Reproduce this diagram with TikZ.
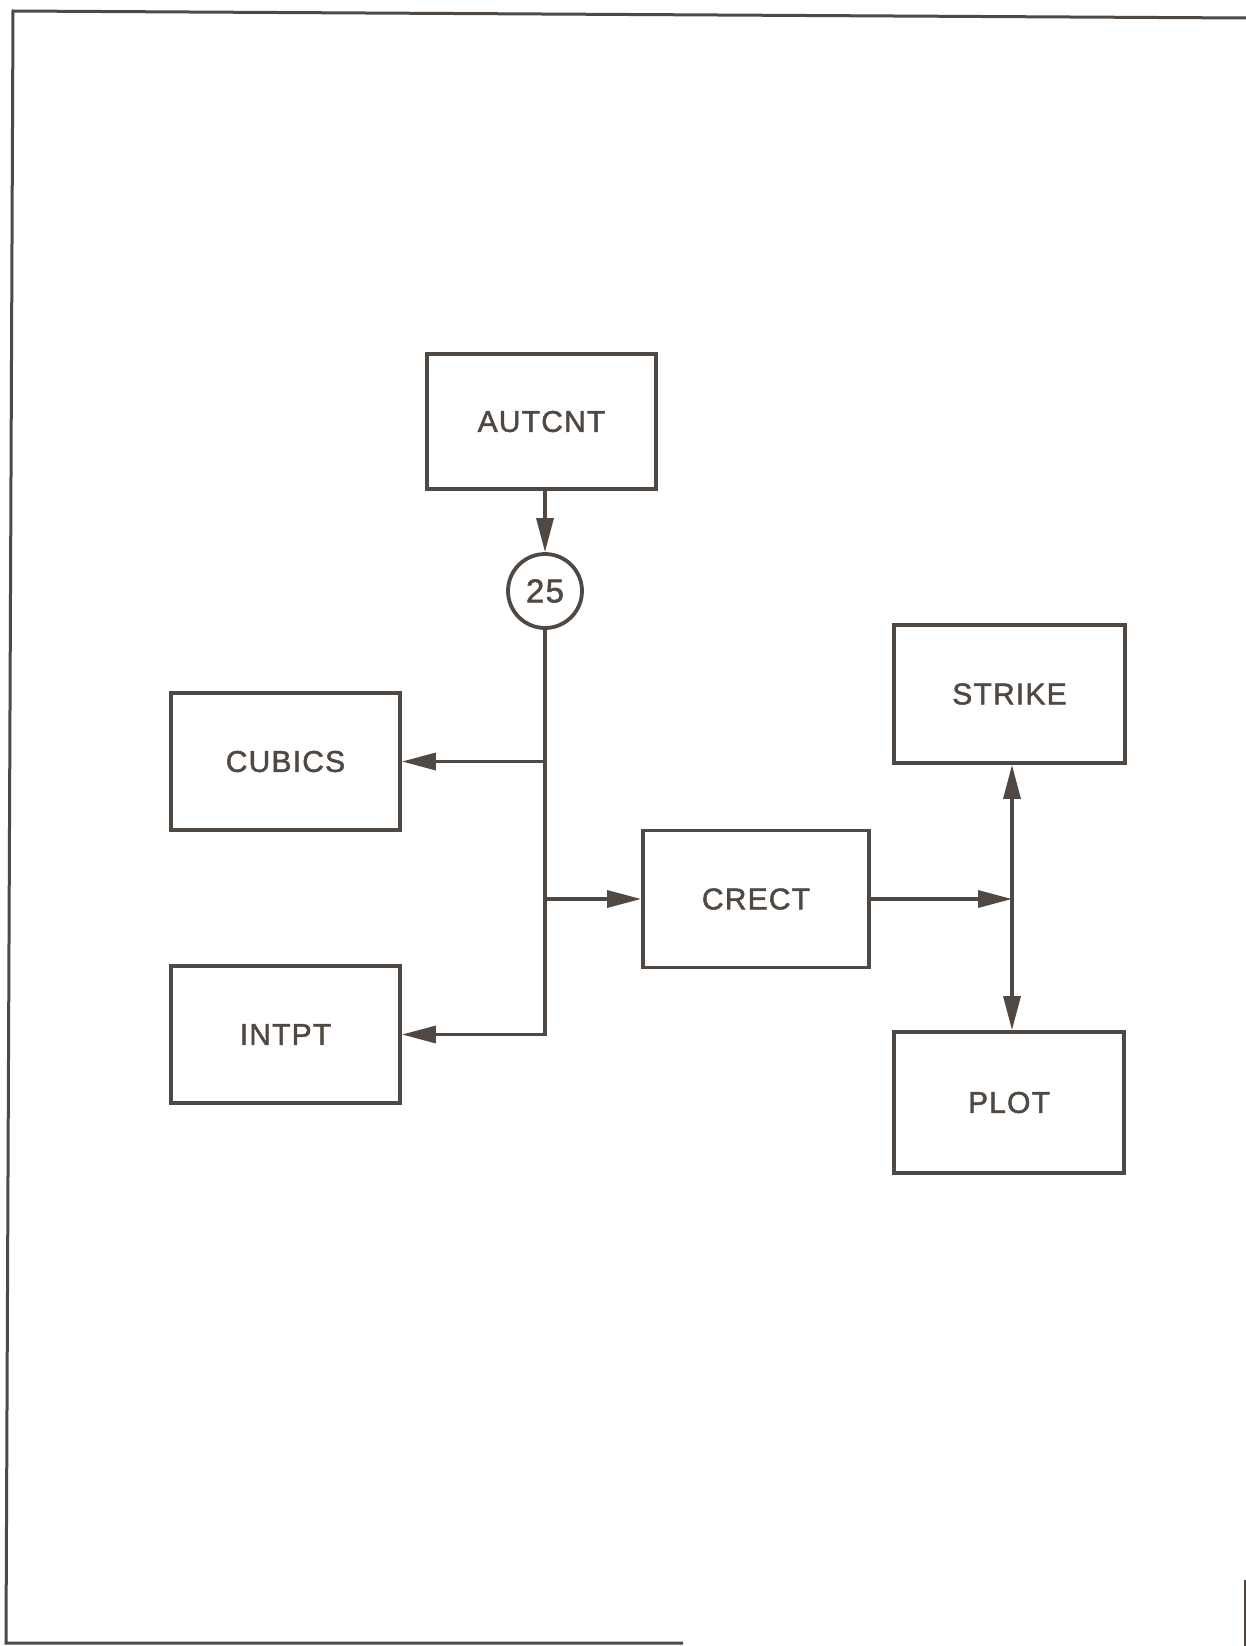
\documentclass[tikz,border=0pt]{standalone}
\usepackage{fontspec}
\setmainfont[LetterSpace=4,FakeBold=1.6]{Liberation Sans}
\usetikzlibrary{arrows.meta}
\definecolor{ink}{RGB}{80,72,66}
\begin{document}
\begin{tikzpicture}[x=1pt,y=-1pt,
  box/.style={draw=ink,line width=3.8pt,rectangle,inner sep=0pt,text=ink,font=\fontsize{30}{36}\selectfont},
  conn/.style={draw=ink,line width=3.3pt},
  arr/.style={conn,-{Triangle[length=34pt,width=17pt]}},
  frame/.style={draw=ink,line width=3pt}]
\useasboundingbox (0,0) rectangle (1246,1646);
% page frame
\draw[frame] (1246,18) -- (13,11) -- (6,1643) -- (683,1643);
\draw[frame] (1245,1580) -- (1245,1646);
% nodes
\node[box,minimum width=229pt,minimum height=135pt] (autcnt) at (541.5,421.5) {AUTCNT};
\node[box,circle,minimum size=74pt,font=\fontsize{33}{38}\selectfont] (c25) at (545,591) {25};
\node[box,minimum width=229pt,minimum height=137pt] (cubics) at (285.5,761.5) {CUBICS};
\node[box,minimum width=229pt,minimum height=137pt] (intpt) at (285.5,1034.5) {INTPT};
\node[box,minimum width=226pt,minimum height=137pt] (crect) at (756,899) {CRECT};
\node[box,minimum width=231pt,minimum height=138pt] (strike) at (1009.5,694) {STRIKE};
\node[box,minimum width=230pt,minimum height=141pt] (plot) at (1009,1102.5) {PLOT};
\coordinate (jr) at (1012,899);
% connectors
\draw[arr] (c25.north |- autcnt.south) -- (c25.north);
\draw[arr] (c25.south) |- (intpt.east);
\draw[arr] (c25.south |- cubics.east) -- (cubics.east);
\draw[arr] (c25.south |- crect.west) -- (crect.west);
\draw[arr] (crect.east) -- (jr);
\draw[arr] (jr) -- (jr |- strike.south);
\draw[arr] (jr) -- (jr |- plot.north);
\end{tikzpicture}
\end{document}
